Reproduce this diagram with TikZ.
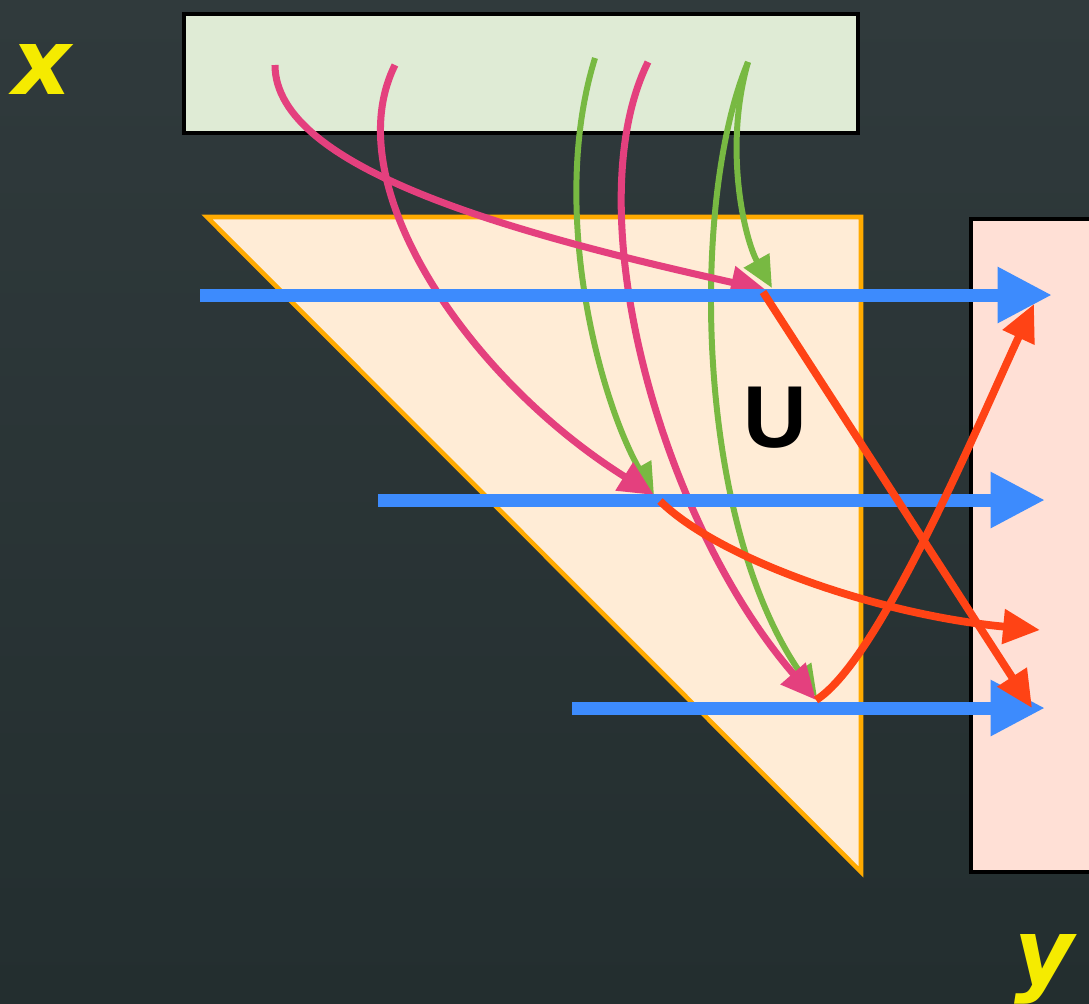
\documentclass[tikz,border=0pt]{standalone}
\usepackage{fontspec}
\setmainfont{DejaVu Sans}
\newfontfamily\heavyfont{Liberation Sans}
\usetikzlibrary{arrows.meta,calc}

\definecolor{bgtop}{RGB}{48,58,60}
\definecolor{bgbot}{RGB}{35,46,47}
\definecolor{inbox}{RGB}{223,235,213}
\definecolor{outbox}{RGB}{255,224,214}
\definecolor{trifill}{RGB}{255,236,214}
\definecolor{triedge}{RGB}{255,170,0}
\definecolor{flowblue}{RGB}{61,139,253}
\definecolor{flowpink}{RGB}{228,64,126}
\definecolor{flowgreen}{RGB}{120,185,66}
\definecolor{flowred}{RGB}{255,67,21}
\definecolor{varyellow}{RGB}{245,235,0}

\tikzset{
  bluearrow/.style={draw=flowblue, line width=3.7pt, -{Triangle[length=15.5pt,width=15pt]}},
  pinkarrow/.style={draw=flowpink, line width=2pt, -{Triangle[length=10pt,width=9pt]}},
  greenarrow/.style={draw=flowgreen, line width=1.7pt, -{Triangle[length=9pt,width=8pt]}},
  redarrow/.style={draw=flowred, line width=2.2pt, -{Triangle[length=10.5pt,width=9.5pt]}},
  varlabel/.style={text=varyellow, font=\bfseries\itshape\fontsize{26}{26}\selectfont, inner sep=0pt},
}

\begin{document}
\begin{tikzpicture}[x=0.01cm, y=-0.01cm]
			%%%%% backdrop %%%%%
			\useasboundingbox (0,0) rectangle (1089,1003);
			\clip (0,0) rectangle (1089,1003);
			\shade[top color=bgtop, bottom color=bgbot] (0,0) rectangle (1089,1003);
			
			%%%%% blocks %%%%%
			\draw[fill=inbox, line width=1.4pt] (184,14) rectangle (858,133);
			\draw[fill=trifill, draw=triedge, line width=1.3pt] (207,217) -- (861,217) -- (861,872) -- cycle;
			\draw[fill=outbox, line width=1.4pt] (971,219) rectangle (1100,872);
			
			\node[font=\heavyfont\bfseries\fontsize{25}{25}\selectfont, anchor=base, inner sep=0pt] (U) at (775,447) {U};
			\node[varlabel, anchor=base] (xin) at (42,94) {x};
			\node[varlabel, anchor=base] (yout) at (1044,984) {y};
			
			%%%%% points %%%%%
			\coordinate (s1) at (275,65);
			\coordinate (s2) at (395,65);
			\coordinate (s3) at (595,58);
			\coordinate (s4) at (648,62);
			\coordinate (s5) at (748,62);
			
			\coordinate (a1) at (200,295);
			\coordinate (a2) at (378,500);
			\coordinate (a3) at (572,708);
			\coordinate (b1) at (1052,295);
			\coordinate (b2) at (1045,500);
			\coordinate (b3) at (1045,708);
			
			\coordinate (h1) at (766,290);
			\coordinate (h2) at (654,495);
			\coordinate (h3) at (816,700);
			
			\coordinate (r1) at (1032,708);
			\coordinate (r2) at (1040,630);
			\coordinate (r3) at (1034,304);
			
			%%%%% pink and green %%%%%
			\draw[greenarrow] (s5) .. controls (723,150) and (745,240) .. ($(h1)+(6,-2)$);
			\draw[greenarrow] (s3) .. controls (548,210) and (600,400) .. (h2);
			\draw[greenarrow] (s5) .. controls (690,200) and (695,520) .. ($(h3)+(1,-3)$);
			
			\draw[pinkarrow] (s1) .. controls (275,170) and (520,235) .. (h1);
			\draw[pinkarrow] (s2) .. controls (335,185) and (470,380) .. (h2);
			\draw[pinkarrow] (s4) .. controls (575,210) and (660,520) .. (h3);
			
			%%%%% blue %%%%%
			\draw[bluearrow] (a1) -- (b1);
			\draw[bluearrow] (a2) -- (b2);
			\draw[bluearrow] (a3) -- (b3);
			
			%%%%% red %%%%%
			\draw[redarrow] ($(h1)+(-3,2)$) -- (r1);
			\draw[redarrow] ($(h2)+(6,6)$) .. controls (720,560) and (880,615) .. (r2);
			\draw[redarrow] (h3) .. controls (880,660) and (980,420) .. (r3);
			
\end{tikzpicture}
\end{document}
